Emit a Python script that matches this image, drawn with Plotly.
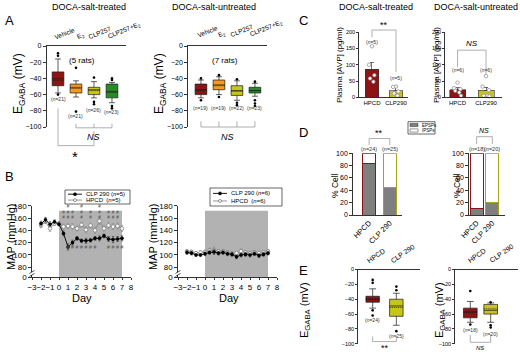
import plotly.graph_objects as go

W, H = 520, 356
FONT = "Liberation Sans, Arial, sans-serif"

# ---------------- DATA ----------------
A_GROUPS = ["Vehicle", "E<sub>2</sub>", "CLP257", "CLP257+E<sub>2</sub>"]
A_COLORS = ["#8c1414", "#f39a1f", "#c8c41e", "#2a8a2a"]

# A, DOCA-salt-treated
A_T_Q1 = [-49, -58, -60, -64]
A_T_MED = [-42, -52, -54, -57]
A_T_Q3 = [-32, -47, -51, -47]
A_T_MEAN = [-40, -51, -55, -56]
A_T_LO = [-58, -63, -64, -70]
A_T_HI = [-16, -43, -44, -45]
A_T_OUT = [[-9, -12, -60], [-27, -81], [-39, -69, -72], [-40, -42, -74, -77]]
A_T_N = ["21", "21", "26", "23"]
A_T_NPOS = [-65, -87, -79, -82]

# A, DOCA-salt-untreated
A_U_Q1 = [-60, -54, -61, -58]
A_U_MED = [-54, -48, -55, -55]
A_U_Q3 = [-47, -42, -49, -51]
A_U_MEAN = [-55, -49, -56, -55]
A_U_LO = [-64, -60, -67, -62]
A_U_HI = [-42, -38, -43, -46]
A_U_OUT = [[-40, -67], [-36, -63], [-41, -70, -73], [-44, -67, -71, -74]]
A_U_N = ["19", "19", "22", "23"]
A_U_NPOS = [-77, -77, -77, -77]

# B, MAP time course
DAYS = [-2, -1.5, -1, -0.5, 0, 0.5, 1, 1.5, 2, 2.5, 3, 3.5, 4, 4.5, 5, 5.5, 6, 6.5, 7]
B_T_CLP = [151, 157, 150, 154, 150, 135, 113, 120, 127, 123, 123, 124, 127, 127, 131, 126, 125, 126, 127]
B_T_CLP_ERR = [4, 4, 4, 3, 3, 4, 5, 4, 3, 3, 4, 3, 3, 4, 3, 4, 5, 4, 4]
B_T_HPCD = [148, 154, 143, 151, 151, 146, 147, 146, 143, 149, 141, 148, 140, 155, 143, 148, 146, 147, 143]
B_T_HPCD_ERR = [4, 3, 5, 3, 3, 4, 4, 5, 4, 4, 5, 4, 5, 5, 4, 5, 5, 5, 5]
B_U_CLP = [104, 103, 100, 100, 102, 104, 105, 103, 104, 102, 101, 97, 100, 101, 100, 102, 99, 101, 103]
B_U_CLP_ERR = [3, 3, 2, 2, 3, 3, 4, 3, 3, 3, 3, 3, 3, 3, 3, 3, 3, 3, 3]
B_U_HPCD = [106, 105, 103, 104, 105, 107, 108, 106, 106, 104, 102, 103, 106, 104, 103, 104, 103, 104, 106]
B_U_HPCD_ERR = [3, 3, 3, 3, 3, 4, 5, 3, 3, 3, 3, 3, 4, 3, 3, 3, 3, 3, 3]
TREATMENT = [0, 7]
SIG_ABOVE_DAYS = [0.5, 1, 1.5, 2.5, 3.5, 4.5, 5.5, 6, 6.5]
SIG_ABOVE_TEXT = ["#<br>#", "#<br>#<br>#", "#<br>#", "#<br>#<br>#", "#<br>#", "#<br>#<br>#", "#<br>#", "#<br>#", "#<br>#"]
SIG_BELOW_DAYS = [1, 1.5, 2, 2.5, 3, 3.5, 4, 5.5, 6, 6.5, 7]

# C, plasma AVP
C_GROUPS = ["HPCD", "CLP290"]
C_T_MEAN = [87, 20]
C_T_ERR = [19, 13]
C_T_PTS = [[157, 100, 68, 58, 48], [33, 32, 18, 12, 5]]
C_U_MEAN = [23, 21]
C_U_ERR = [7, 10]
C_U_PTS = [[45, 28, 25, 20, 15, 5], [65, 33, 22, 5, 5, 3]]
C_JITTER = [0.0, -0.12, 0.1, -0.08, 0.06, 0.12]

# D, % cells
D_GROUPS = ["HPCD", "CLP 290"]
D_L_EPSP = [83, 44]
D_R_EPSP = [11, 20]
D_L_N = ["24", "25"]
D_R_N = ["18", "20"]

# E, EGABA HPCD vs CLP 290
E_GROUPS = ["HPCD", "CLP 290"]
E_L_Q1 = [-44, -63]
E_L_MED = [-40, -49]
E_L_Q3 = [-36, -40]
E_L_MEAN = [-40, -51]
E_L_LO = [-52, -75]
E_L_HI = [-26, -32]
E_L_OUT = [[-14, -18, -55, -62], [-23, -28, -83]]
E_L_N = ["24", "25"]
E_L_NPOS = [-68, -90]
E_R_Q1 = [-65, -60]
E_R_MED = [-57, -55]
E_R_Q3 = [-52, -47]
E_R_MEAN = [-58, -53]
E_R_LO = [-71, -71]
E_R_HI = [-43, -45]
E_R_OUT = [[-29, -74], [-44, -75, -78]]
E_R_N = ["18", "20"]
E_R_NPOS = [-81, -87]

RED = "#8c1414"
YEL = "#c8c41e"

# ---------------- LAYOUT GEOMETRY ----------------
PANELS = {
    'Al': dict(n=1, xpx=(46.5, 126), ypx=(46, 127), xr=(-0.64, 3.78), yr=(-100, 0)),
    'Ar': dict(n=2, xpx=(188, 267), ypx=(46, 127), xr=(-0.72, 3.67), yr=(-100, 0)),
    'Bl': dict(n=3, xpx=(32, 131), ypx=(205.7, 277.3), xr=(-3, 8), yr=(63.8, 180)),
    'Br': dict(n=4, xpx=(178, 277), ypx=(205.7, 277.3), xr=(-3, 8), yr=(63.8, 180)),
    'Cl': dict(n=5, xpx=(359, 408), ypx=(32.3, 97.3), xr=(-0.54, 1.5), yr=(0, 200)),
    'Cr': dict(n=6, xpx=(445, 502), ypx=(32.3, 97.3), xr=(-0.44, 1.56), yr=(0, 200)),
    'Dl': dict(n=7, xpx=(353, 402), ypx=(153.3, 215), xr=(-0.78, 1.59), yr=(0, 100)),
    'Dr': dict(n=8, xpx=(469, 505), ypx=(153.3, 215), xr=(-0.49, 1.81), yr=(0, 100)),
    'El': dict(n=9, xpx=(358, 420), ypx=(269.5, 343.8), xr=(-0.62, 2.0), yr=(-100, 0)),
    'Er': dict(n=10, xpx=(455, 518), ypx=(269.5, 343.8), xr=(-0.75, 2.34), yr=(-100, 0)),
}


def refs(p):
    n = PANELS[p]['n']
    s = "" if n == 1 else str(n)
    return "x" + s, "y" + s


def to_paper(p, xv, yv):
    d = PANELS[p]
    x0, x1 = d['xpx']; r0, r1 = d['xr']
    xp = x0 + (xv - r0) / (r1 - r0) * (x1 - x0)
    yt, yb = d['ypx']; s0, s1 = d['yr']
    yp = yb - (yv - s0) / (s1 - s0) * (yb - yt)
    return xp / W, 1 - yp / H


fig = go.Figure()
shapes = []
annots = []


def seg(p, x0, y0, x1, y1, color="#9a9a9a", w=0.8):
    a = to_paper(p, x0, y0); b = to_paper(p, x1, y1)
    shapes.append(dict(type="line", xref="paper", yref="paper", x0=a[0], y0=a[1], x1=b[0], y1=b[1],
                       line=dict(color=color, width=w)))


def _ann(xp, yp, t, size, color, kw):
    a = dict(x=xp, y=yp, xref="paper", yref="paper", text=t, showarrow=False,
             xanchor="center", yanchor="middle",
             font=dict(size=size, color=color, family=FONT))
    a.update(kw)
    annots.append(a)


def text(p, xv, yv, t, size=6, color="black", **kw):
    a = to_paper(p, xv, yv)
    _ann(a[0], a[1], t, size, color, kw)


def ptext(xpx, ypx, t, size=9, color="black", **kw):
    _ann(xpx / W, 1 - ypx / H, t, size, color, kw)


def top_labels(p, labels, dx, dy, angle, size):
    # rotated category labels sitting above a top x axis
    yv = PANELS[p]['yr'][1]
    for i, lab in enumerate(labels):
        a = to_paper(p, i, yv)
        _ann(a[0] + dx[i] / W, a[1] + dy / H, lab, size, "black",
             dict(xanchor="left", yanchor="bottom", textangle=angle, borderpad=0))


def boxes(p, q1, med, q3, mean, lo, hi, outs, colors, width):
    xr, yr = refs(p)
    for i in range(len(q1)):
        fig.add_trace(go.Box(x=[i], q1=[q1[i]], median=[med[i]], q3=[q3[i]], mean=[mean[i]],
                             lowerfence=[lo[i]], upperfence=[hi[i]], boxmean=True, boxpoints=False,
                             fillcolor=colors[i], line=dict(color="#1a1a1a", width=0.7),
                             width=width, whiskerwidth=0.5, xaxis=xr, yaxis=yr,
                             showlegend=False, hoverinfo="skip"))
        fig.add_trace(go.Scatter(x=[i] * len(outs[i]), y=outs[i], mode="markers",
                                 marker=dict(color="black", size=2.6), xaxis=xr, yaxis=yr,
                                 showlegend=False, hoverinfo="skip", cliponaxis=False))


# ---- A ----
boxes('Al', A_T_Q1, A_T_MED, A_T_Q3, A_T_MEAN, A_T_LO, A_T_HI, A_T_OUT, A_COLORS, 0.65)
boxes('Ar', A_U_Q1, A_U_MED, A_U_Q3, A_U_MEAN, A_U_LO, A_U_HI, A_U_OUT, A_COLORS, 0.65)
top_labels('Al', A_GROUPS, [-6, -2, -8, -6], 4, -22, 6.5)
top_labels('Ar', A_GROUPS, [-6, -3, -9, -7], 6, -22, 6.5)
for i in range(4):
    text('Al', i, A_T_NPOS[i], "(<i>n</i>=%s)" % A_T_N[i], size=5, color="#333")
    text('Ar', i, A_U_NPOS[i], "(<i>n</i>=%s)" % A_U_N[i], size=5, color="#333")
text('Al', 1.35, -18, "(5 rats)", size=8)
text('Ar', 1.35, -18, "(7 rats)", size=8)
# NS bracket left
seg('Al', 1, -101, 3, -101)
for i in (1, 2, 3):
    seg('Al', i, -96, i, -101)
text('Al', 2, -112, "<i>NS</i>", size=9)
# star bracket
seg('Al', 0, -77, 0, -123)
seg('Al', 0, -123, 2, -123)
seg('Al', 2, -123, 2, -105)
text('Al', 0.95, -136, "*", size=15)
# NS bracket right
seg('Ar', 0, -100, 3, -100)
for i in range(4):
    seg('Ar', i, -93, i, -100)
text('Ar', 1.5, -112, "<i>NS</i>", size=9)

# ---- B ----
for p, clp, clpe, hp, hpe in (('Bl', B_T_CLP, B_T_CLP_ERR, B_T_HPCD, B_T_HPCD_ERR),
                              ('Br', B_U_CLP, B_U_CLP_ERR, B_U_HPCD, B_U_HPCD_ERR)):
    xr, yr = refs(p)
    shapes.append(dict(type="rect", xref=xr, yref=yr, x0=TREATMENT[0], x1=TREATMENT[1],
                       y0=PANELS[p]['yr'][0], y1=172, fillcolor="#b2b2b2",
                       line=dict(width=0), layer="below"))
    fig.add_trace(go.Scatter(x=DAYS, y=hp, mode="lines+markers", xaxis=xr, yaxis=yr,
                             line=dict(color="#8a8a8a", width=0.9),
                             marker=dict(symbol="circle", size=3.6, color="white",
                                         line=dict(color="#777", width=0.7)),
                             error_y=dict(type="data", array=hpe, color="#8a8a8a", thickness=0.6, width=1.2),
                             showlegend=False, hoverinfo="skip"))
    fig.add_trace(go.Scatter(x=DAYS, y=clp, mode="lines+markers", xaxis=xr, yaxis=yr,
                             line=dict(color="black", width=0.9),
                             marker=dict(symbol="circle", size=3.6, color="black"),
                             error_y=dict(type="data", array=clpe, color="#333", thickness=0.6, width=1.2),
                             showlegend=False, hoverinfo="skip"))

xr, yr = refs('Bl')
fig.add_trace(go.Scatter(x=SIG_ABOVE_DAYS, y=[156] * len(SIG_ABOVE_DAYS), mode="text",
                         text=SIG_ABOVE_TEXT, textposition="top center",
                         textfont=dict(size=4.5, color="#555", family=FONT), xaxis=xr, yaxis=yr,
                         showlegend=False, hoverinfo="skip", cliponaxis=False))
fig.add_trace(go.Scatter(x=SIG_BELOW_DAYS, y=[111] * len(SIG_BELOW_DAYS), mode="text",
                         text=["#"] * len(SIG_BELOW_DAYS), textposition="middle center",
                         textfont=dict(size=5, color="#555", family=FONT), xaxis=xr, yaxis=yr,
                         showlegend=False, hoverinfo="skip", cliponaxis=False))

# axis break marks
for p in ('Bl', 'Br'):
    bx, by = to_paper(p, -3, 70)
    shapes.append(dict(type="rect", xref="paper", yref="paper", x0=bx - 3 / W, x1=bx + 3 / W,
                       y0=by - 1.5 / H, y1=by + 1.5 / H, fillcolor="white", line=dict(width=0)))
    for dy in (-1.5, 1.5):
        shapes.append(dict(type="line", xref="paper", yref="paper", x0=bx - 2.5 / W, x1=bx + 2.5 / W,
                           y0=by + (dy - 1.5) / H, y1=by + (dy + 1.5) / H, line=dict(color="black", width=0.7)))


def legend_B(x0, y0, x1, y1, n):
    shapes.append(dict(type="rect", xref="paper", yref="paper", x0=x0 / W, x1=x1 / W,
                       y0=1 - y1 / H, y1=1 - y0 / H, line=dict(color="black", width=0.6), fillcolor="white"))
    rows = [(y0 + (y1 - y0) * 0.3, "black", "black", "CLP 290 (<i>n</i>=%d)" % n),
            (y0 + (y1 - y0) * 0.72, "#8a8a8a", "white", "HPCD  (<i>n</i>=%d)" % n)]
    for yy, lc, fc, t in rows:
        shapes.append(dict(type="line", xref="paper", yref="paper", x0=(x0 + 3) / W, x1=(x0 + 17) / W,
                           y0=1 - yy / H, y1=1 - yy / H, line=dict(color=lc, width=0.9)))
        shapes.append(dict(type="circle", xref="paper", yref="paper", x0=(x0 + 8.5) / W, x1=(x0 + 11.5) / W,
                           y0=1 - (yy + 1.5) / H, y1=1 - (yy - 1.5) / H,
                           line=dict(color="#555" if fc == "white" else "black", width=0.6), fillcolor=fc))
        ptext(x0 + 19, yy, t, size=6, xanchor="left")


legend_B(65, 190, 130, 204, 5)
legend_B(210, 188, 282, 206, 6)

# ---- C ----
for p, means, errs, pts, nlab in (('Cl', C_T_MEAN, C_T_ERR, C_T_PTS, [171, 59]),
                                  ('Cr', C_U_MEAN, C_U_ERR, C_U_PTS, [84, 84])):
    xr, yr = refs(p)
    fig.add_trace(go.Bar(x=[0, 1], y=means, width=0.56, xaxis=xr, yaxis=yr,
                         marker=dict(color=[RED, YEL], line=dict(color="#333", width=0.6)),
                         error_y=dict(type="data", array=errs, arrayminus=[0, 0], color="#333",
                                      thickness=0.7, width=2),
                         showlegend=False, hoverinfo="skip"))
    for g in range(2):
        fig.add_trace(go.Scatter(x=[g + C_JITTER[k] for k in range(len(pts[g]))], y=pts[g], mode="markers",
                                 marker=dict(symbol="circle", size=3.5, color="white",
                                             line=dict(color="#888", width=0.7)),
                                 xaxis=xr, yaxis=yr, showlegend=False, hoverinfo="skip", cliponaxis=False))
        text(p, g, nlab[g], "(<i>n</i>=%d)" % len(pts[g]), size=5, color="#333")
seg('Cl', 0, 185, 0, 207)
seg('Cl', 0, 207, 1, 207)
seg('Cl', 1, 207, 1, 78)
text('Cl', 0.5, 222, "**", size=9)
seg('Cr', 0, 94, 0, 145)
seg('Cr', 0, 145, 1, 145)
seg('Cr', 1, 145, 1, 70)
text('Cr', 0.5, 165, "<i>NS</i>", size=8)

# ---- D ----
for p, ep, ns in (('Dl', D_L_EPSP, D_L_N), ('Dr', D_R_EPSP, D_R_N)):
    xr, yr = refs(p)
    wd = 0.6 if p == 'Dl' else 0.85
    fig.add_trace(go.Bar(x=[0, 1], y=ep, width=wd, xaxis=xr, yaxis=yr,
                         marker=dict(color="#7f7f7f", line=dict(color=[RED, "#a8a418"], width=1)),
                         showlegend=False, hoverinfo="skip"))
    fig.add_trace(go.Bar(x=[0, 1], y=[100 - v for v in ep], width=wd,
                         xaxis=xr, yaxis=yr,
                         marker=dict(color="white", line=dict(color=[RED, "#a8a418"], width=1)),
                         showlegend=False, hoverinfo="skip"))
    for g in range(2):
        text(p, g, 106.5, "(<i>n</i>=%s)" % ns[g], size=5.5, color="#333")
seg('Dl', 0, 113.5, 0, 124)
seg('Dl', 0, 124, 1, 124)
seg('Dl', 1, 124, 1, 113.5)
text('Dl', 0.5, 133, "**", size=9)
seg('Dr', 0, 115, 0, 127)
seg('Dr', 0, 127, 1, 127)
seg('Dr', 1, 127, 1, 115)
text('Dr', 0.5, 137, "<i>NS</i>", size=7)
# D legend
shapes.append(dict(type="rect", xref="paper", yref="paper", x0=408 / W, x1=435 / W, y0=1 - 134 / H,
                   y1=1 - 121.7 / H, line=dict(color="black", width=0.6), fillcolor="white"))
for yy, fc, t in ((125, "#7f7f7f", "EPSPs"), (130.5, "white", "IPSPs")):
    shapes.append(dict(type="rect", xref="paper", yref="paper", x0=410 / W, x1=418 / W,
                       y0=1 - (yy + 1.6) / H, y1=1 - (yy - 1.6) / H,
                       line=dict(color="#333", width=0.5), fillcolor=fc))
    ptext(419.5, yy, t, size=4.5, xanchor="left")

# ---- E ----
boxes('El', E_L_Q1, E_L_MED, E_L_Q3, E_L_MEAN, E_L_LO, E_L_HI, E_L_OUT, [RED, YEL], 0.57)
boxes('Er', E_R_Q1, E_R_MED, E_R_Q3, E_R_MEAN, E_R_LO, E_R_HI, E_R_OUT, [RED, YEL], 0.67)
top_labels('El', E_GROUPS, [-8, -8], 4, -35, 7)
top_labels('Er', E_GROUPS, [-5, -4], 4, -35, 7)
for g in range(2):
    text('El', g, E_L_NPOS[g], "(<i>n</i>=%s)" % E_L_N[g], size=5, color="#333")
    text('Er', g, E_R_NPOS[g], "(<i>n</i>=%s)" % E_R_N[g], size=5, color="#333")
seg('El', 0, -90, 0, -97)
seg('El', 0, -97, 1, -97)
seg('El', 1, -97, 1, -90)
text('El', 0.5, -105.5, "**", size=9)
seg('Er', 0, -88, 0, -98)
seg('Er', 0, -98, 1, -98)
seg('Er', 1, -98, 1, -88)
text('Er', 0.5, -106, "<i>NS</i>", size=6)

# ---------------- AXES ----------------
AX = dict(showgrid=False, zeroline=False, showline=True, linecolor="black", linewidth=0.8,
          ticks="outside", ticklen=3, tickwidth=0.8, tickcolor="black", automargin=False,
          fixedrange=True)
layout_axes = {}


def axes(p, xkw, ykw):
    d = PANELS[p]
    n = d['n']
    s = "" if n == 1 else str(n)
    xr, yr = refs(p)
    xa = dict(AX); xa.update(domain=[d['xpx'][0] / W, d['xpx'][1] / W], range=list(d['xr']), anchor=yr)
    xa.update(xkw)
    ya = dict(AX); ya.update(domain=[1 - d['ypx'][1] / H, 1 - d['ypx'][0] / H], range=list(d['yr']), anchor=xr)
    ya.update(ykw)
    layout_axes["xaxis" + s] = xa
    layout_axes["yaxis" + s] = ya


tf = lambda s: dict(size=s, color="black", family=FONT)
for p in ('Al', 'Ar'):
    axes(p, dict(side="top", ticks="", showticklabels=False),
         dict(tickvals=[-100, -80, -60, -40, -20, 0], tickfont=tf(7)))
for p in ('Bl', 'Br'):
    axes(p, dict(tickvals=[-3, -2, -1, 0, 1, 2, 3, 4, 5, 6, 7, 8], tickfont=tf(8), ticklen=2,
                 tickangle=0),
         dict(tickvals=[63.8, 80, 100, 120, 140, 160, 180],
              ticktext=["0", "80", "100", "120", "140", "160", "180"], tickfont=tf(8)))
for p in ('Cl', 'Cr'):
    axes(p, dict(ticks="", tickvals=[0, 1], ticktext=C_GROUPS, tickfont=tf(6), tickangle=0),
         dict(tickvals=[0, 50, 100, 150, 200], tickfont=tf(5.5), ticklen=2))
for p in ('Dl', 'Dr'):
    axes(p, dict(ticks="", tickvals=[0, 1], ticktext=D_GROUPS, tickangle=-45, tickfont=tf(7.5)),
         dict(tickvals=[0, 20, 40, 60, 80, 100], tickfont=tf(7)))
for p in ('El', 'Er'):
    axes(p, dict(side="top", ticks="", showticklabels=False),
         dict(tickvals=[-100, -80, -60, -40, -20, 0], tickfont=tf(5.5), ticklen=2))

# ---------------- TITLES / LABELS ----------------
ptext(89, 7, "DOCA-salt-treated", size=9)
ptext(214, 7, "DOCA-salt-untreated", size=9)
ptext(376, 7, "DOCA-salt-treated", size=9)
ptext(476, 7, "DOCA-salt-untreated", size=9)
for t, x, y in (("A", 9, 21), ("B", 9, 177), ("C", 303, 20), ("D", 303, 132), ("E", 303, 270)):
    ptext(x, y, t, size=13)
EG = "E<sub>GABA</sub> (mV)"
ptext(19, 84, EG, size=12, textangle=-90)
ptext(160, 84, EG, size=12, textangle=-90)
ptext(11, 237, "MAP (mmHg)", size=11, textangle=-90)
ptext(153, 237, "MAP (mmHg)", size=11, textangle=-90)
ptext(82, 298, "Day", size=11)
ptext(229, 298, "Day", size=11)
ptext(339, 65, "Plasma [AVP] (pg/ml)", size=8, textangle=-90)
ptext(436, 65, "Plasma [AVP] (pg/ml)", size=8, textangle=-90)
ptext(335, 186, "% Cell", size=8.5, textangle=-90)
ptext(457, 186, "% Cell", size=8.5, textangle=-90)
ptext(305, 310, EG, size=11, textangle=-90)
ptext(440, 310, EG, size=11, textangle=-90)

fig.update_layout(width=W, height=H, margin=dict(l=0, r=0, t=0, b=0), autosize=False,
                  paper_bgcolor="white", plot_bgcolor="rgba(0,0,0,0)",
                  font=dict(family=FONT, color="black"), showlegend=False,
                  barmode="stack", boxmode="overlay", shapes=shapes, annotations=annots,
                  **layout_axes)
fig.write_html("out.html", config={"displayModeBar": False, "staticPlot": True},
               post_script="document.body.style.margin='0px';")
